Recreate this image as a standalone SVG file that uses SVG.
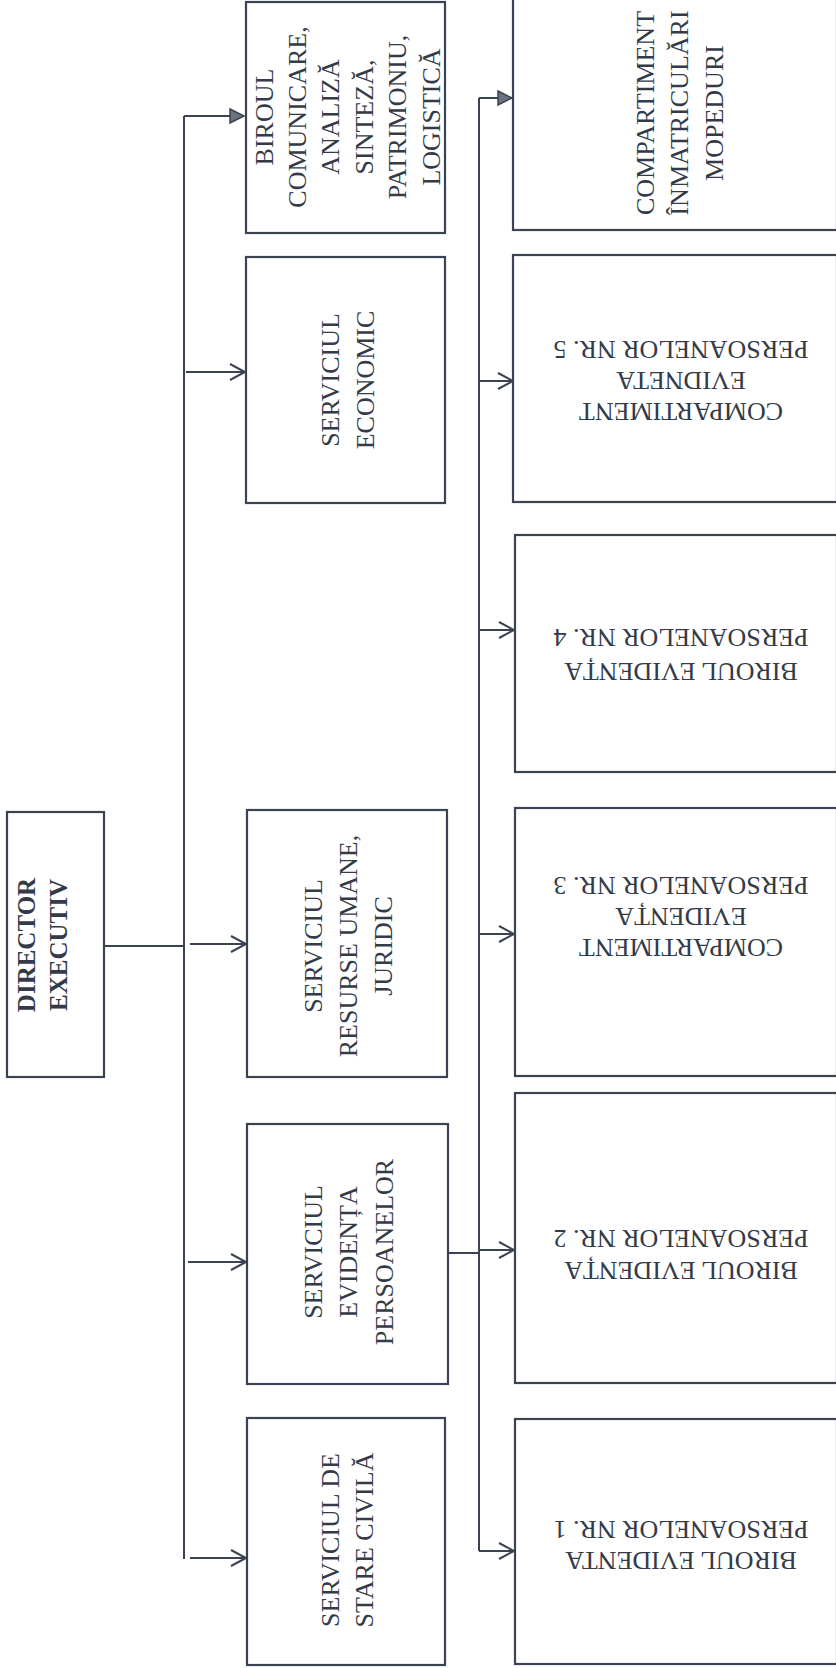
<svg xmlns="http://www.w3.org/2000/svg" width="836" height="1668" viewBox="0 0 836 1668">
<defs>
<style>
.box{fill:#fff;stroke:#3b4352;stroke-width:2.2}
.ln{fill:none;stroke:#3b4352;stroke-width:2}
.t{font-family:"Liberation Serif","Times New Roman",serif;font-size:26px;fill:#343b48;text-anchor:middle}
.b{font-weight:bold;font-size:25px}
</style>
<marker id="av" markerUnits="userSpaceOnUse" markerWidth="20" markerHeight="20" viewBox="-16 -10 18 20" refX="0" refY="0" orient="auto">
<path d="M-15,-8 L0,0 L-15,8" fill="none" stroke="#3b4352" stroke-width="2"/>
</marker>
<marker id="af" markerUnits="userSpaceOnUse" markerWidth="20" markerHeight="20" viewBox="-16 -10 18 20" refX="0" refY="0" orient="auto">
<path d="M-14,-7 L0,0 L-14,7 Z" fill="#6b7280" stroke="#3b4352" stroke-width="1.5"/>
</marker>
</defs>
<rect width="836" height="1668" fill="#fff"/>
<g id="connectors">
<path class="ln" d="M184,116 V1559"/>
<path class="ln" d="M104,946 H184"/>
<path class="ln" d="M184,116 H244" marker-end="url(#af)"/>
<path class="ln" d="M186,372 H245" marker-end="url(#av)"/>
<path class="ln" d="M190,944 H246" marker-end="url(#av)"/>
<path class="ln" d="M188,1262 H246" marker-end="url(#av)"/>
<path class="ln" d="M190,1558 H246" marker-end="url(#av)"/>
<path class="ln" d="M479,98 V1551"/>
<path class="ln" d="M448,1253 H479"/>
<path class="ln" d="M479,98 H512" marker-end="url(#af)"/>
<path class="ln" d="M479,381 H513" marker-end="url(#av)"/>
<path class="ln" d="M479,630 H514" marker-end="url(#av)"/>
<path class="ln" d="M479,934 H514" marker-end="url(#av)"/>
<path class="ln" d="M479,1250 H514" marker-end="url(#av)"/>
<path class="ln" d="M479,1551 H514" marker-end="url(#av)"/>
</g>
<g id="director">
<rect class="box" x="7" y="812" width="97" height="265"/>
<text class="t b" transform="translate(42,945) rotate(-90)"><tspan x="0" y="-7.5">DIRECTOR</tspan><tspan x="0" y="24.5">EXECUTIV</tspan></text>
</g>
<g id="birou-comunicare">
<rect class="box" x="246" y="2" width="199" height="231"/>
<text class="t" transform="translate(347,117) rotate(-90)"><tspan x="0" y="-74.5">BIROUL</tspan><tspan x="0" y="-41.1">COMUNICARE,</tspan><tspan x="0" y="-7.7">ANALIZĂ</tspan><tspan x="0" y="25.7">SINTEZĂ,</tspan><tspan x="0" y="59.1">PATRIMONIU,</tspan><tspan x="0" y="92.5">LOGISTICĂ</tspan></text>
</g>
<g id="serviciul-economic">
<rect class="box" x="246" y="257" width="199" height="246"/>
<text class="t" transform="translate(347.5,380) rotate(-90)"><tspan x="0" y="-8.5">SERVICIUL</tspan><tspan x="0" y="26.5">ECONOMIC</tspan></text>
</g>
<g id="serviciul-resurse-umane">
<rect class="box" x="247" y="810" width="200" height="267"/>
<text class="t" transform="translate(348,946) rotate(-90)"><tspan x="0" y="-26">SERVICIUL</tspan><tspan x="0" y="9">RESURSE UMANE,</tspan><tspan x="0" y="44">JURIDIC</tspan></text>
</g>
<g id="serviciul-evidenta">
<rect class="box" x="247" y="1124" width="201" height="260"/>
<text class="t" transform="translate(348,1252) rotate(-90)"><tspan x="0" y="-26.5">SERVICIUL</tspan><tspan x="0" y="9">EVIDENȚA</tspan><tspan x="0" y="44.5">PERSOANELOR</tspan></text>
</g>
<g id="serviciul-stare-civila">
<rect class="box" x="247" y="1418" width="198" height="247"/>
<text class="t" transform="translate(347,1540) rotate(-90)"><tspan x="0" y="-8">SERVICIUL DE</tspan><tspan x="0" y="26">STARE CIVILĂ</tspan></text>
</g>
<g id="compartiment-mopeduri">
<rect class="box" x="513" y="-2" width="324" height="232"/>
<text class="t" transform="translate(679,113) rotate(-90)"><tspan x="0" y="-25.5">COMPARTIMENT</tspan><tspan x="0" y="9">ÎNMATRICULĂRI</tspan><tspan x="0" y="43.5">MOPEDURI</tspan></text>
</g>
<g id="compartiment-5">
<rect class="box" x="513" y="255" width="324" height="247"/>
<text class="t" transform="translate(681,381) rotate(180)"><tspan x="0" y="-22">COMPARTIMENT</tspan><tspan x="0" y="9">EVIDNETA</tspan><tspan x="0" y="40">PERSOANELOR NR. 5</tspan></text>
</g>
<g id="birou-4">
<rect class="box" x="515" y="535" width="322" height="237"/>
<text class="t" transform="translate(681,655) rotate(180)"><tspan x="0" y="-8">BIROUL EVIDENȚA</tspan><tspan x="0" y="26">PERSOANELOR NR. 4</tspan></text>
</g>
<g id="compartiment-3">
<rect class="box" x="515" y="808" width="322" height="268"/>
<text class="t" transform="translate(681,917) rotate(180)"><tspan x="0" y="-22">COMPARTIMENT</tspan><tspan x="0" y="9">EVIDENȚA</tspan><tspan x="0" y="40">PERSOANELOR NR. 3</tspan></text>
</g>
<g id="birou-2">
<rect class="box" x="515" y="1093" width="322" height="290"/>
<text class="t" transform="translate(681,1255) rotate(180)"><tspan x="0" y="-7">BIROUL EVIDENȚA</tspan><tspan x="0" y="25">PERSOANELOR NR. 2</tspan></text>
</g>
<g id="birou-1">
<rect class="box" x="515" y="1419" width="322" height="245"/>
<text class="t" transform="translate(681,1545) rotate(180)"><tspan x="0" y="-6.5">BIROUL EVIDENTA</tspan><tspan x="0" y="24.5">PERSOANELOR NR. 1</tspan></text>
</g>
</svg>
